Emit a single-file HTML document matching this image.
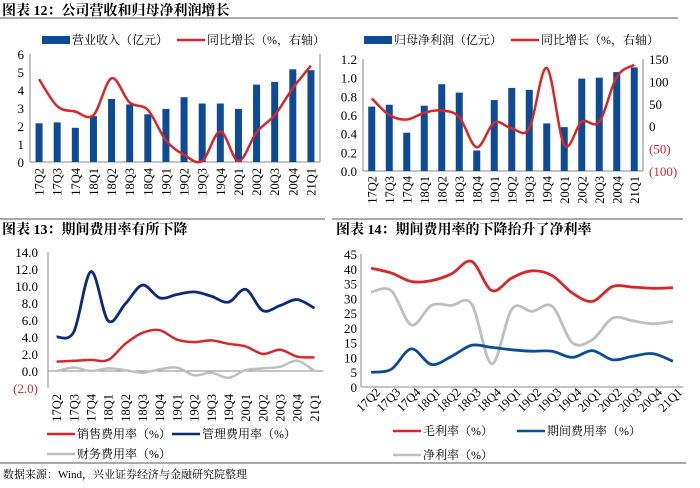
<!DOCTYPE html>
<html><head><meta charset="utf-8">
<style>
html,body{margin:0;padding:0;background:#fff;}
svg{display:block;font-family:"Liberation Serif","Noto Serif CJK SC","Noto Sans CJK SC",serif;}
</style></head>
<body>
<svg id="root" width="700" height="488" viewBox="0 0 700 488" xmlns="http://www.w3.org/2000/svg">
<g><text x="2" y="15" font-size="14" font-weight="bold">图表 12：公司营收和归母净利润增长</text></g>
<line x1="0" y1="18" x2="678" y2="18" stroke="#777" stroke-width="1.2"/>
<line x1="0" y1="219" x2="325" y2="219" stroke="#777" stroke-width="1.2"/>
<line x1="332" y1="219" x2="683" y2="219" stroke="#777" stroke-width="1.2"/>
<text x="2" y="234" font-size="14" font-weight="bold">图表 13：期间费用率有所下降</text>
<text x="336" y="234" font-size="14" font-weight="bold">图表 14：期间费用率的下降抬升了净利率</text>
<line x1="0" y1="463" x2="686" y2="463" stroke="#555" stroke-width="1"/>
<text x="3" y="478" font-size="11">数据来源：Wind，兴业证券经济与金融研究院整理</text>
<g id="c12"></g><g id="c12b"></g><g id="c13"></g><g id="c14"></g>
</svg>
<script>
const cats = ["17Q2","17Q3","17Q4","18Q1","18Q2","18Q3","18Q4","19Q1","19Q2","19Q3","19Q4","20Q1","20Q2","20Q3","20Q4","21Q1"];
const revenue = [2.15,2.2,1.9,2.55,3.5,3.2,2.65,2.95,3.6,3.25,3.25,2.95,4.3,4.45,5.15,5.1];
const revGrowth = [0.92,0.62,0.56,0.52,0.93,0.66,0.58,0.24,0.08,0.01,0.34,0.01,0.33,0.52,0.82,1.07];
const profit = [0.69,0.71,0.41,0.70,0.93,0.84,0.22,0.76,0.89,0.87,0.51,0.47,0.99,1.0,1.06,1.11];
const profitGrowth = [62,25,15,30,35,20,-47,8,-5,-5,130,-42,10,10,110,137];
const sellRate = [1.1,1.2,1.3,1.3,3.2,4.5,4.8,3.7,3.4,3.6,3.2,2.9,2.0,2.5,1.7,1.6];
const mgmtRate = [4.0,4.6,11.7,5.9,7.9,10.1,8.6,9.0,9.3,8.8,8.1,9.6,7.1,7.7,8.4,7.4];
const finRate = [0.0,0.4,0.0,0.3,0.1,-0.2,0.2,0.4,-0.5,-0.2,-0.8,0.1,0.3,0.5,1.2,0.0];
const grossMargin = [40.2,38.6,35.7,36.0,38.3,42.5,32.6,36.9,39.3,37.7,31.8,29.0,34.0,33.8,33.4,33.6];
const netMargin = [32.1,32.6,21.0,27.6,27.6,28.0,7.8,26.4,25.6,27.3,15.0,16.0,23.3,22.4,21.4,22.2];
const expenseRate = [5.0,6.0,12.9,7.6,10.4,14.1,13.4,12.6,12.1,12.1,10.0,12.3,9.2,10.4,11.3,8.7];
const ticks12 = [0,1,2,3,4,5,6];
const ticks12bL = ["0.0","0.2","0.4","0.6","0.8","1.0","1.2"];
const ticks12bR = [-100,-50,0,50,100,150];
const ticks13 = [-2,0,2,4,6,8,10,12,14];
const ticks14 = [0,5,10,15,20,25,30,35,40,45];

const NS="http://www.w3.org/2000/svg";
function mk(parent,tag,attrs){const e=document.createElementNS(NS,tag);for(const k in attrs)e.setAttribute(k,attrs[k]);parent.appendChild(e);return e;}
function smooth(pts){let d="M"+pts[0][0]+","+pts[0][1];for(let i=0;i<pts.length-1;i++){const p0=pts[Math.max(0,i-1)],p1=pts[i],p2=pts[i+1],p3=pts[Math.min(pts.length-1,i+2)];const c1=[p1[0]+(p2[0]-p0[0])/6,p1[1]+(p2[1]-p0[1])/6],c2=[p2[0]-(p3[0]-p1[0])/6,p2[1]-(p3[1]-p1[1])/6];d+=" C"+c1[0].toFixed(1)+","+c1[1].toFixed(1)+" "+c2[0].toFixed(1)+","+c2[1].toFixed(1)+" "+p2[0].toFixed(1)+","+p2[1].toFixed(1);}return d;}
function fmtNeg(v){return v<0?"("+Math.abs(v)+")":String(v);}

function frame(g,x0,x1,yTop,yBot,yAxisAt,rightAxis){
  let e=mk(g,"line",{x1:x0,y1:yTop,x2:x0,y2:yBot,stroke:"#888","stroke-width":1});
  
  e=mk(g,"line",{x1:x0,y1:yAxisAt,x2:x1,y2:yAxisAt,stroke:"#888","stroke-width":1});
  
  if(rightAxis){e=mk(g,"line",{x1:x1,y1:yTop,x2:x1,y2:yBot,stroke:"#888","stroke-width":1});
  }
}
function xLabels(g,xc,yStart,rot){
  cats.forEach((c,i)=>{const x=xc(i);
    const t=mk(g,"text",{"font-size":12.5,fill:"#000"});
    if(rot===-90){t.setAttribute("transform","translate("+(x+4.5)+","+yStart+") rotate(-90)");t.setAttribute("text-anchor","end");}
    else{t.setAttribute("transform","translate("+(x+4)+","+yStart+") rotate(-45)");t.setAttribute("text-anchor","end");}
    t.textContent=c;
    
    
  });
}
function legendLine(g,x,y,color,label,bar){
  let s;
  if(bar){s=mk(g,"rect",{x:x,y:y-4,width:28,height:8,fill:"#0d4c94"});}
  else{s=mk(g,"line",{x1:x,y1:y,x2:x+28,y2:y,stroke:color,"stroke-width":2.5});}
  
  const t=mk(g,"text",{x:x+30,y:y+4,"font-size":12});t.textContent=label;
  
}
function linePath(g,pts,color,w,name){
  const p=mk(g,"path",{d:smooth(pts),fill:"none",stroke:color,"stroke-width":w,"stroke-linejoin":"round"});
  
}

(function(){
  const g=document.getElementById("c12");
  const x0=30,x1=320,yT=54,yB=162;const bw=(x1-x0)/cats.length;
  const xc=i=>x0+bw*(i+0.5);const y=v=>yB-(v/6)*(yB-yT);const yR=v=>yB-(v/1.2)*(yB-yT);
  frame(g,x0,x1,yT,yB,yB,true);
  ticks12.forEach(v=>{const t=mk(g,"text",{x:x0-6,y:y(v)+5,"font-size":13,"text-anchor":"end"});t.textContent=v;
    });
  revenue.forEach((v,i)=>{const r=mk(g,"rect",{x:xc(i)-3.5,y:y(v),width:7,height:yB-y(v),fill:"#0d4c94"});
    });
  linePath(g,revGrowth.map((v,i)=>[xc(i),yR(v)]),"#d9262a",2.5,"revenue-growth-line");
  xLabels(g,xc,168,-90);
  legendLine(g,42,40,"#0d4c94","营业收入（亿元）",true);
  legendLine(g,177,40,"#d9262a","同比增长（%，右轴）",false);
})();
(function(){
  const g=document.getElementById("c12b");
  const x0=363,x1=643,yT=59,yB=171;const bw=(x1-x0)/cats.length;
  const xc=i=>x0+bw*(i+0.5);const y=v=>yB-(v/1.2)*(yB-yT);const yR=v=>yB-((v+100)/250)*(yB-yT);
  frame(g,x0,x1,yT,yB,yB,true);
  ticks12bL.forEach(v=>{const t=mk(g,"text",{x:x0-6,y:y(+v)+5,"font-size":13,"text-anchor":"end"});t.textContent=v;
    });
  ticks12bR.forEach(v=>{const t=mk(g,"text",{x:x1+6,y:yR(v)+5,"font-size":13,fill:v<0?"#d9262a":"#000"});t.textContent=fmtNeg(v);
    });
  profit.forEach((v,i)=>{const r=mk(g,"rect",{x:xc(i)-3.5,y:y(v),width:7,height:yB-y(v),fill:"#0d4c94"});
    });
  linePath(g,profitGrowth.map((v,i)=>[xc(i),yR(v)]),"#d9262a",2.5,"profit-growth-line");
  xLabels(g,xc,176,-90);
  legendLine(g,364,40,"#0d4c94","归母净利润（亿元）",true);
  legendLine(g,511,40,"#d9262a","同比增长（%，右轴）",false);
})();
(function(){
  const g=document.getElementById("c13");
  const x0=48,x1=323,yT=252,yB=388;const bw=(x1-x0)/cats.length;
  const xc=i=>x0+bw*(i+0.5);const y=v=>yB-((v+2)/16)*(yB-yT);
  frame(g,x0,x1,yT,yB,y(0),false);
  ticks13.forEach(v=>{const t=mk(g,"text",{x:x0-10,y:y(v)+5,"font-size":13,"text-anchor":"end",fill:v<0?"#d9262a":"#000"});t.textContent=v<0?"("+Math.abs(v).toFixed(1)+")":v.toFixed(1);
    });
  linePath(g,finRate.map((v,i)=>[xc(i),y(v)]),"#bfbfbf",2.5,"finance-rate-line");
  linePath(g,sellRate.map((v,i)=>[xc(i),y(v)]),"#d9262a",2.5,"selling-rate-line");
  linePath(g,mgmtRate.map((v,i)=>[xc(i),y(v)]),"#0b2a7a",2.8,"admin-rate-line");
  xLabels(g,xc,394,-90);
  legendLine(g,47,434,"#d9262a","销售费用率（%）",false);
  legendLine(g,172,434,"#0b2a7a","管理费用率（%）",false);
  legendLine(g,47,454,"#bfbfbf","财务费用率（%）",false);
})();
(function(){
  const g=document.getElementById("c14");
  const x0=361,x1=683,yT=254,yB=387;const bw=(x1-x0)/cats.length;
  const xc=i=>x0+bw*(i+0.5);const y=v=>yB-(v/45)*(yB-yT);
  frame(g,x0,x1,yT,yB,yB,false);
  ticks14.forEach(v=>{const t=mk(g,"text",{x:x0-4,y:y(v)+5,"font-size":13,"text-anchor":"end"});t.textContent=v;
    });
  linePath(g,netMargin.map((v,i)=>[xc(i),y(v)]),"#bfbfbf",2.8,"net-margin-line");
  linePath(g,grossMargin.map((v,i)=>[xc(i),y(v)]),"#d9262a",2.8,"gross-margin-line");
  linePath(g,expenseRate.map((v,i)=>[xc(i),y(v)]),"#0d4c94",2.8,"expense-rate-line");
  xLabels(g,i=>xc(i)+6,393,-45);
  legendLine(g,393,431,"#d9262a","毛利率（%）",false);
  legendLine(g,517,431,"#0d4c94","期间费用率（%）",false);
  legendLine(g,393,455,"#bfbfbf","净利率（%）",false);
})();
</script>
</body></html>
